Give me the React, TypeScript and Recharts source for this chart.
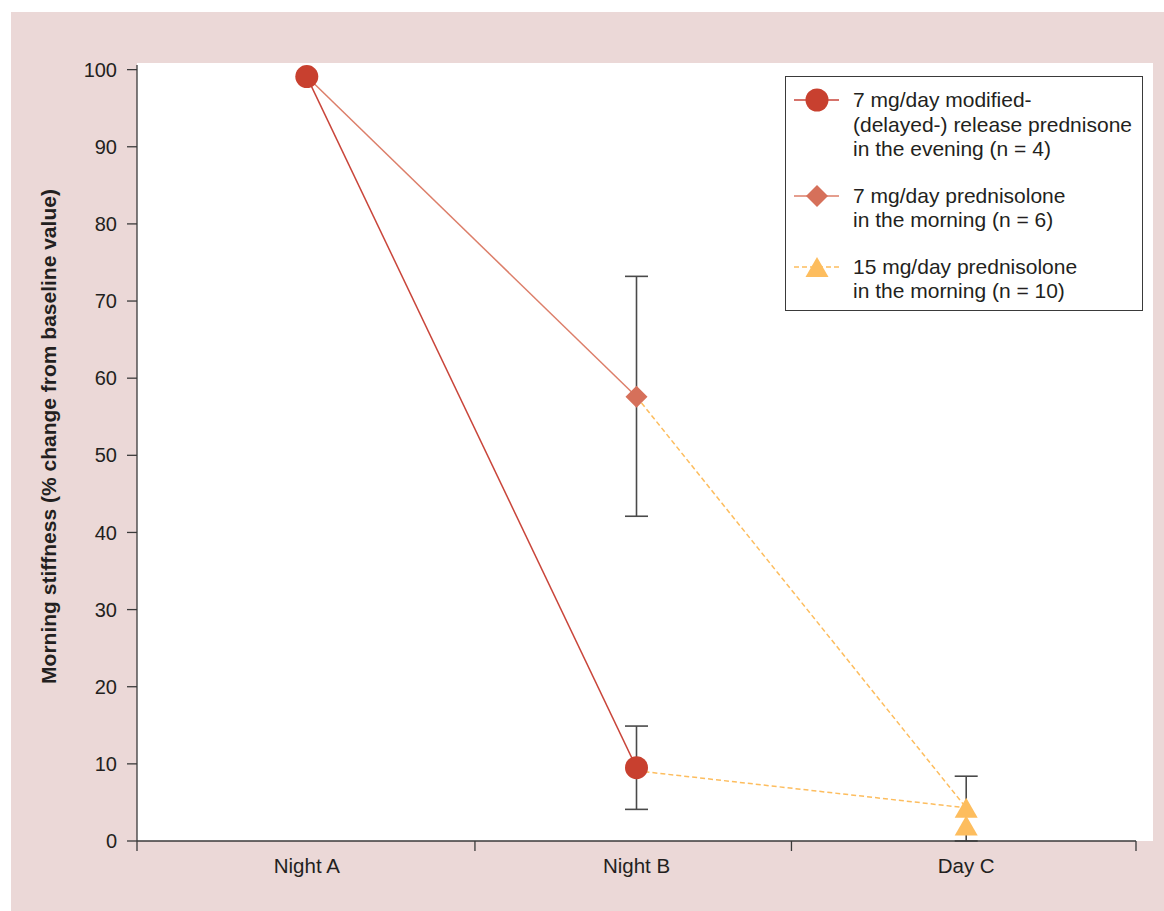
import { ErrorBar, Legend, Line, LineChart, XAxis, YAxis, Label } from "recharts";

const FONT = "'Liberation Sans', Arial, Helvetica, sans-serif";
const TEXT = "#231f20";
const AXIS = "#3a3a3a";
const RED = "#c8402f";
const RED_LINE = "#c9453a";
const SALMON = "#d6705a";
const SALMON_LINE = "#dc7e69";
const AMBER = "#fdbd5e";
const PINK = "#ebd8d7";

const categories = ["Night A", "Night B", "Day C"];

// 7 mg/day modified-release prednisone, evening
const eveningValues = [99.1, 9.5, null];
const eveningLow = [null, 4.1, null];
const eveningHigh = [null, 14.9, null];

// 7 mg/day prednisolone, morning
const morning7Values = [99.1, 57.6, null];
const morning7Low = [null, 42.1, null];
const morning7High = [null, 73.2, null];

// dashed links to 15 mg/day prednisolone
const fromEvening = [null, 9.1, 4.3];
const fromMorning7 = [null, 57.6, 4.3];

// 15 mg/day prednisolone, morning
const morning15Values = [null, null, 4.3];
const morning15Low = [null, null, 0];
const morning15High = [null, null, 8.4];
const morning15Second = [null, null, 2.0];

const yTicks = [0, 10, 20, 30, 40, 50, 60, 70, 80, 90, 100];
const xEdges = [-0.015, 1.01, 1.97, 3.015];
const catPos = categories.map((_, i) => i + 0.5);

const err = (v: number | null, lo: number | null, hi: number | null) =>
  v == null || lo == null || hi == null ? null : [v - lo, hi - v];

const data = categories.map((name, i) => ({
  x: catPos[i],
  name,
  evening: eveningValues[i],
  eveningErr: err(eveningValues[i], eveningLow[i], eveningHigh[i]),
  morning7: morning7Values[i],
  morning7Err: err(morning7Values[i], morning7Low[i], morning7High[i]),
  fromEvening: fromEvening[i],
  fromMorning7: fromMorning7[i],
  morning15: morning15Values[i],
  morning15Err: err(morning15Values[i], morning15Low[i], morning15High[i]),
  morning15b: morning15Second[i],
}));

const legendItems = [
  { lines: ["7 mg/day modified-", "(delayed-) release prednisone", "in the evening (n = 4)"], color: RED, line: RED_LINE, shape: "circle", dashed: false },
  { lines: ["7 mg/day prednisolone", "in the morning (n = 6)"], color: SALMON, line: SALMON_LINE, shape: "diamond", dashed: false },
  { lines: ["15 mg/day prednisolone", "in the morning (n = 10)"], color: AMBER, line: AMBER, shape: "triangle", dashed: true },
];

function Marker({ shape, cx, cy, color }: { shape: string; cx: number; cy: number; color: string }) {
  if (shape === "circle") return <circle cx={cx} cy={cy} r={11.5} fill={color} />;
  if (shape === "diamond")
    return <polygon points={`${cx},${cy - 11} ${cx + 11},${cy} ${cx},${cy + 11} ${cx - 11},${cy}`} fill={color} />;
  return <polygon points={`${cx},${cy - 10} ${cx + 11.5},${cy + 10} ${cx - 11.5},${cy + 10}`} fill={color} />;
}

const makeDot = (shape: string, color: string) => (props: any) => {
  const { cx, cy, index } = props;
  if (cx == null || cy == null || isNaN(cy)) return <g key={`${shape}-${index}`} />;
  return (
    <g key={`${shape}-${index}`}>
      <Marker shape={shape} cx={cx} cy={cy} color={color} />
    </g>
  );
};

function XTick(props: any) {
  const { x, y, payload } = props;
  const idx = catPos.indexOf(payload.value);
  if (idx >= 0) {
    return (
      <text x={x} y={y} dy={22} textAnchor="middle" fill={TEXT} fontSize={20.5} fontFamily={FONT}>
        {categories[idx]}
      </text>
    );
  }
  return <line x1={x} y1={y - 10} x2={x} y2={y} stroke={AXIS} strokeWidth={1.3} />;
}

function LegendBox() {
  return (
    <div
      style={{
        border: `1.3px solid ${AXIS}`,
        background: "#fff",
        fontFamily: FONT,
        fontSize: 21,
        lineHeight: "24.5px",
        color: TEXT,
        padding: "11px 0 6px 0",
        boxSizing: "border-box",
      }}
    >
      {legendItems.map((it, i) => (
        <div key={i} style={{ display: "flex", marginTop: i ? 22 : 0 }}>
          <svg width={67} height={24.5} style={{ overflow: "visible", flex: "none" }}>
            <line
              x1={8}
              x2={53}
              y1={12}
              y2={12}
              stroke={it.line}
              strokeWidth={1.5}
              strokeDasharray={it.dashed ? "5 3" : undefined}
            />
            <Marker shape={it.shape} cx={31} cy={12} color={it.color} />
          </svg>
          <div style={{ whiteSpace: "nowrap" }}>
            {it.lines.map((l) => (
              <div key={l}>{l}</div>
            ))}
          </div>
        </div>
      ))}
    </div>
  );
}

function YLabel(props: any) {
  const vb = props.viewBox;
  const cx = vb.x + 56;
  const cy = vb.y + vb.height / 2 - 16.5;
  return (
    <text
      x={cx}
      y={cy}
      transform={`rotate(-90 ${cx} ${cy})`}
      textAnchor="middle"
      fill={TEXT}
      fontSize={21}
      fontWeight={700}
      fontFamily={FONT}
    >
      Morning stiffness (% change from baseline value)
    </text>
  );
}

export default function App() {
  return (
    <div style={{ position: "absolute", left: 0, top: 0, width: 1164, height: 911, background: "#fff" }}>
      <div style={{ position: "absolute", left: 11, top: 12, width: 1153, height: 899, background: PINK }} />
      <div style={{ position: "absolute", left: 137, top: 63, width: 1016, height: 778, background: "#fff" }} />
      <div style={{ position: "absolute", left: 0, top: 0 }}>
        <LineChart width={1164} height={911} data={data} margin={{ top: 65, right: 28, bottom: 0, left: 0 }}>
          <XAxis
            dataKey="x"
            type="number"
            domain={[xEdges[0], xEdges[3]]}
            ticks={[...xEdges, ...catPos].sort((a, b) => a - b)}
            interval={0}
            height={70}
            tickLine={false}
            tickSize={10}
            tickMargin={0}
            tick={<XTick />}
            axisLine={{ stroke: AXIS, strokeWidth: 1.3 }}
          />
          <YAxis
            type="number"
            domain={[0, 100.6]}
            ticks={yTicks}
            interval={0}
            width={137}
            tickSize={10}
            tickMargin={10}
            tick={{ fill: TEXT, fontSize: 20, fontFamily: FONT }}
            tickLine={{ stroke: AXIS, strokeWidth: 1.3 }}
            axisLine={{ stroke: AXIS, strokeWidth: 1.3 }}
          >
            <Label content={<YLabel />} />
          </YAxis>
          <Legend layout="horizontal" verticalAlign="middle" align="center" content={<LegendBox />} wrapperStyle={{ left: 785, top: 76, width: 358, height: 232 }} />
          <Line
            dataKey="fromEvening"
            stroke={AMBER}
            strokeWidth={1.5}
            strokeDasharray="5 3"
            dot={false}
            activeDot={false}
            isAnimationActive={false}
            legendType="none"
          />
          <Line
            dataKey="fromMorning7"
            stroke={AMBER}
            strokeWidth={1.5}
            strokeDasharray="5 3"
            dot={false}
            activeDot={false}
            isAnimationActive={false}
            legendType="none"
          />
          <Line
            dataKey="morning7"
            stroke={SALMON_LINE}
            strokeWidth={1.5}
            dot={makeDot("diamond", SALMON)}
            activeDot={false}
            isAnimationActive={false}
          >
            <ErrorBar dataKey="morning7Err" direction="y" width={11.5} stroke="#4a4a4a" strokeWidth={1.6} />
          </Line>
          <Line
            dataKey="evening"
            stroke={RED_LINE}
            strokeWidth={1.5}
            dot={makeDot("circle", RED)}
            activeDot={false}
            isAnimationActive={false}
          >
            <ErrorBar dataKey="eveningErr" direction="y" width={11.5} stroke="#4a4a4a" strokeWidth={1.6} />
          </Line>
          <Line
            dataKey="morning15"
            stroke="none"
            dot={makeDot("triangle", AMBER)}
            activeDot={false}
            isAnimationActive={false}
          >
            <ErrorBar dataKey="morning15Err" direction="y" width={11.5} stroke="#4a4a4a" strokeWidth={1.6} />
          </Line>
          <Line
            dataKey="morning15b"
            stroke="none"
            dot={makeDot("triangle", AMBER)}
            activeDot={false}
            isAnimationActive={false}
          />
        </LineChart>
      </div>
    </div>
  );
}
